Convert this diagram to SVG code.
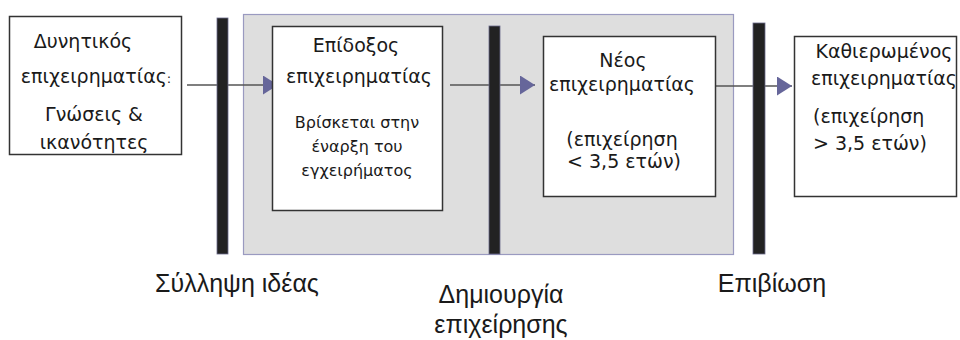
<svg xmlns="http://www.w3.org/2000/svg" width="960" height="340" viewBox="0 0 960 340">
<style>
  text { font-family: "Liberation Sans", Arial, sans-serif; fill: #1a1a1a; }
  .t, .tl, .s { font-family: "DejaVu Sans", Verdana, sans-serif; }
  .t { font-size: 19px; text-anchor: middle; }
  .tl { font-size: 19px; text-anchor: start; }
  .s { font-size: 16px; text-anchor: middle; }
  .lab { font-size: 25px; text-anchor: middle; }
  .box { fill: #ffffff; stroke: #333333; stroke-width: 1.5; }
  .bar { fill: #222222; stroke: #6a6a8a; stroke-width: 0.8; }
  .conn { stroke: #555555; stroke-width: 1.5; fill: none; marker-end: url(#ah); }
</style>
<defs>
  <marker id="ah" viewBox="0 0 15 19" markerWidth="15" markerHeight="19" refX="15" refY="9.5" orient="auto" markerUnits="userSpaceOnUse">
    <path d="M0,0 L15,9.5 L0,19 Z" fill="#66669a"/>
  </marker>
</defs>
<rect id="stage-area" x="243.5" y="14.5" width="490" height="240" fill="#dedede" stroke="#9a9ac0" stroke-width="1.2"/>
<g id="connectors">
  <line class="conn" x1="187" y1="85" x2="278" y2="85"/>
  <line class="conn" x1="450" y1="85" x2="535" y2="85"/>
  <line class="conn" x1="708" y1="86" x2="792" y2="86"/>
</g>
<g id="bar-idea"><rect class="bar" x="217" y="18" width="11" height="236"/></g>
<g id="bar-creation"><rect class="bar" x="489" y="26" width="11" height="228"/></g>
<g id="bar-survival"><rect class="bar" x="753" y="23" width="12" height="231"/></g>
<g id="node-potential">
  <rect class="box" x="9.5" y="16.5" width="172" height="138"/>
  <text class="t" x="83" y="48">Δυνητικός</text>
  <text class="t" x="96" y="83">επιχειρηματίας<tspan font-size="13px">:</tspan></text>
  <text class="t" x="94" y="121">Γνώσεις &amp;</text>
  <text class="t" x="94" y="149">ικανότητες</text>
</g>
<g id="node-aspiring">
  <rect class="box" x="272.5" y="26.5" width="170" height="184"/>
  <text class="t" x="356" y="52">Επίδοξος</text>
  <text class="t" x="359" y="83">επιχειρηματίας</text>
  <text class="s" x="357" y="128">Βρίσκεται στην</text>
  <text class="s" x="357" y="152">έναρξη του</text>
  <text class="s" x="357" y="176">εγχειρήματος</text>
</g>
<g id="node-new">
  <rect class="box" x="543.5" y="36.5" width="172" height="160"/>
  <text class="t" x="623" y="67">Νέος</text>
  <text class="t" x="622" y="91">επιχειρηματίας</text>
  <text class="t" x="622" y="146">(επιχείρηση</text>
  <text class="t" x="624" y="168">&lt; 3,5 ετών)</text>
</g>
<g id="node-established">
  <rect class="box" x="794.5" y="36.5" width="162" height="160"/>
  <text class="t" x="884" y="58">Καθιερωμένος</text>
  <text class="t" x="884" y="85">επιχειρηματίας</text>
  <text class="tl" x="813" y="123">(επιχείρηση</text>
  <text class="tl" x="813" y="150">&gt; 3,5 ετών)</text>
</g>
<g id="label-idea"><text class="lab" x="237" y="292">Σύλληψη ιδέας</text></g>
<g id="label-creation">
  <text class="lab" x="501" y="303">Δημιουργία</text>
  <text class="lab" x="501" y="333">επιχείρησης</text>
</g>
<g id="label-survival"><text class="lab" x="772" y="292">Επιβίωση</text></g>
</svg>
